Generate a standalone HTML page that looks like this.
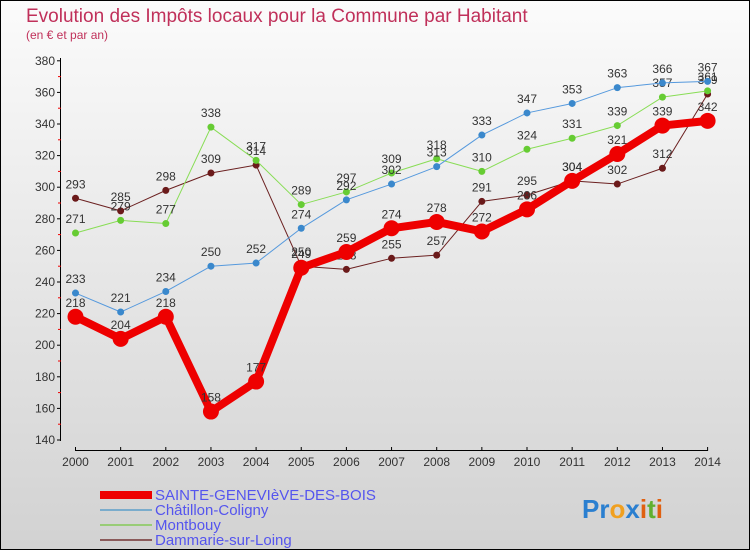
<!DOCTYPE html>
<html><head><meta charset="utf-8"><style>
body{margin:0}
#c{width:750px;height:550px;position:relative;font-family:"Liberation Sans",sans-serif}
</style></head><body>
<div id="c">
<svg width="750" height="550" id="svg">
<defs><linearGradient id="bg" x1="0" y1="0" x2="0" y2="1"><stop offset="0" stop-color="#fbfbfb"/><stop offset="1" stop-color="#d2d2d2"/></linearGradient></defs>
<rect x="0.5" y="0.5" width="749" height="549" fill="url(#bg)" stroke="#000"/>
<text x="26" y="22" font-size="19" fill="#c0305a">Evolution des Impôts locaux pour la Commune par Habitant</text>
<text x="26" y="39" font-size="12" fill="#c0305a">(en € et par an)</text>
<g id="axes"></g><g id="series"></g><g id="legend"></g>
<text x="582" y="518" font-size="26" font-weight="bold"><tspan fill="#2a7fd0">Pr</tspan><tspan fill="#f0a020">o</tspan><tspan fill="#2a7fd0">x</tspan><tspan fill="#e06010">i</tspan><tspan fill="#60b030">t</tspan><tspan fill="#e06010">i</tspan></text>
</svg></div>
<script>
const years=[2000,2001,2002,2003,2004,2005,2006,2007,2008,2009,2010,2011,2012,2013,2014];
const yTicks=[140,160,180,200,220,240,260,280,300,320,340,360,380];
const sgdb=[218,204,218,158,177,249,259,274,278,272,286,304,321,339,342];
const chatillon=[233,221,234,250,252,274,292,302,313,333,347,353,363,366,367];
const montbouy=[271,279,277,338,317,289,297,309,318,310,324,331,339,357,361];
const dammarie=[293,285,298,309,314,250,248,255,257,291,295,304,302,312,359];
const names=["SAINTE-GENEVIèVE-DES-BOIS","Châtillon-Coligny","Montbouy","Dammarie-sur-Loing"];
const NS="http://www.w3.org/2000/svg";
const X=i=>75.5+i*45.15, Y=v=>440-(v-140)*1.58;
function mk(tag,at,parent){const e=document.createElementNS(NS,tag);for(const k in at)e.setAttribute(k,at[k]);parent.appendChild(e);return e;}
const ax=document.getElementById('axes');
let e=mk('line',{x1:60.5,y1:58,x2:60.5,y2:441,stroke:'#000'},ax);


e=mk('line',{x1:75,y1:450.5,x2:708,y2:450.5,stroke:'#000'},ax);


yTicks.forEach((t,i)=>{
 mk('line',{x1:57,y1:Y(t),x2:61,y2:Y(t),stroke:'#000'},ax);
 if(i<yTicks.length-1)mk('line',{x1:58,y1:Y(t+10),x2:61,y2:Y(t+10),stroke:'#e00'},ax);
 const tx=mk('text',{x:55,y:Y(t)+4,'text-anchor':'end','font-size':12,fill:'#333'},ax);tx.textContent=t;
 
 
});
years.forEach((yr,i)=>{
 mk('line',{x1:X(i),y1:447,x2:X(i),y2:451,stroke:'#000'},ax);
 const tx=mk('text',{x:X(i),y:466,'text-anchor':'middle','font-size':12,fill:'#333'},ax);tx.textContent=yr;
 
 
});
const sg=document.getElementById('series');
const defs=[[dammarie,'#6b2020','#6b1a1a',1,3.5,'dammarie'],[montbouy,'#88dd55','#66cc33',1,3.5,'montbouy'],[chatillon,'#5599dd','#3a88cc',1,3.5,'chatillon'],[sgdb,'#ee0000','#ee0000',8,8,'sgdb']];
defs.forEach(([d,lc,pc,w,r,n])=>{
 const g=mk('g',{},sg);
 
 
 const pl=mk('polyline',{points:d.map((v,i)=>X(i)+','+Y(v)).join(' '),fill:'none',stroke:lc,'stroke-width':w,'stroke-linejoin':'round'},g);
 
 
 d.forEach((v,i)=>{
  const c=mk('circle',{cx:X(i),cy:Y(v),r:r,fill:pc},g);
  
  
  const t=mk('text',{x:X(i),y:Y(v)-10,'text-anchor':'middle','font-size':12,fill:'#333'},g);t.textContent=v;
  
  
 });
});
const lg=document.getElementById('legend');
const lc=['#ee0000','#7aaccc','#99cc77','#8a5a5a'],lw=[8,2,2,2];
names.forEach((n,i)=>{
 const y=495+i*15;
 const g=mk('g',{},lg);
 
 
 mk('line',{x1:100,y1:y,x2:152,y2:y,stroke:lc[i],'stroke-width':lw[i]},g);
 const t=mk('text',{x:155,y:y+5,'font-size':15,fill:'#5555ee'},g);t.textContent=n;
});
</script>
</body></html>
